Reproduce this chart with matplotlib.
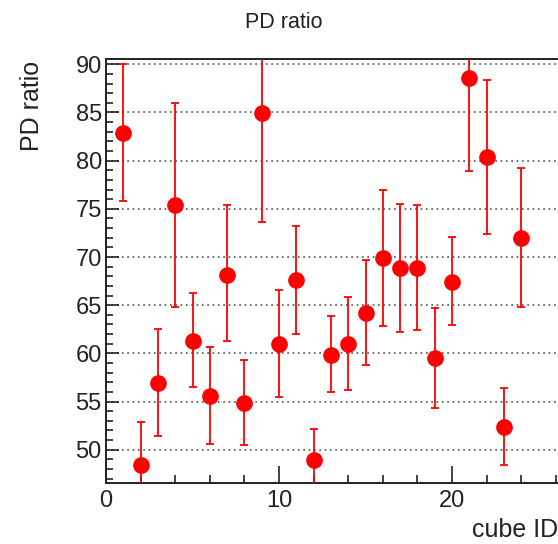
import matplotlib
matplotlib.use("Agg")
import matplotlib.pyplot as plt
from matplotlib.ticker import MultipleLocator

cube_id = [1, 2, 3, 4, 5, 6, 7, 8, 9, 10, 11, 12, 13, 14, 15, 16, 17, 18, 19, 20, 21, 22, 23, 24]
pd_ratio = [82.9, 48.45, 56.9, 75.4, 61.3, 55.6, 68.15, 54.85, 84.9, 61.0, 67.6, 48.9,
            59.85, 61.0, 64.2, 69.9, 68.85, 68.85, 59.55, 67.45, 88.55, 80.4, 52.4, 72.0]
err_low = [7.1, 5.5, 5.5, 10.6, 4.8, 5.0, 6.9, 4.4, 11.3, 5.5, 5.6, 4.5,
           3.9, 4.85, 5.45, 7.1, 6.6, 6.4, 5.2, 4.5, 9.6, 8.0, 3.95, 7.15]
err_high = [7.1, 4.4, 5.6, 10.6, 4.95, 5.05, 7.25, 4.5, 11.3, 5.6, 5.65, 3.3,
            4.0, 4.9, 5.5, 7.1, 6.65, 6.5, 5.15, 4.6, 9.6, 8.0, 4.0, 7.2]

plt.rcParams['font.family'] = ['Liberation Sans', 'DejaVu Sans']

W, H = 558, 544
fig = plt.figure(figsize=(W / 100, H / 100), dpi=100)
left_px, right_px, top_px, bottom_px = 106, 562, 59, 483
ax = fig.add_axes([left_px / W, (H - bottom_px) / H, (right_px - left_px) / W, (bottom_px - top_px) / H])

ax.errorbar(cube_id, pd_ratio, yerr=[err_low, err_high], fmt='o', color='#ff0000',
            ecolor='#ff0000', markersize=11, elinewidth=1.3, capsize=3.2, capthick=1.3, zorder=3)

ax.set_xlim(0, (right_px - left_px) / 17.3)
ax.set_ylim(46.55, 90.55)

ax.xaxis.set_major_locator(MultipleLocator(10))
ax.xaxis.set_minor_locator(MultipleLocator(2))
ax.yaxis.set_major_locator(MultipleLocator(5))
ax.yaxis.set_minor_locator(MultipleLocator(1))
ax.tick_params(axis='both', which='both', direction='in', colors='#222222', labelcolor='#222222')
ax.tick_params(axis='x', which='major', length=12, width=1.2, labelsize=17, pad=5)
ax.tick_params(axis='x', which='minor', length=6, width=1.2)
ax.tick_params(axis='y', which='major', length=9, width=1.2, labelsize=17, pad=3)
ax.tick_params(axis='y', which='minor', length=5, width=1.2)
ax.tick_params(top=False, right=False, which='both')

ax.yaxis.grid(True, which='major', color='#555555', linestyle=(0, (1, 2.2)), linewidth=1.2)
for s in ax.spines.values():
    s.set_linewidth(1.4)
    s.set_color('#222222')

fig.text(284 / W, 1 - 23 / H, 'PD ratio', ha='center', va='center', fontsize=15.5, color='#222222')
fig.text(32 / W, 1 - 61 / H, 'PD ratio', ha='center', va='top', rotation=90, fontsize=18, color='#222222')
fig.text(472 / W, 1 - 530 / H, 'cube ID', ha='left', va='center', fontsize=18, color='#222222')

fig.savefig('out.png', dpi=100, facecolor='white')
